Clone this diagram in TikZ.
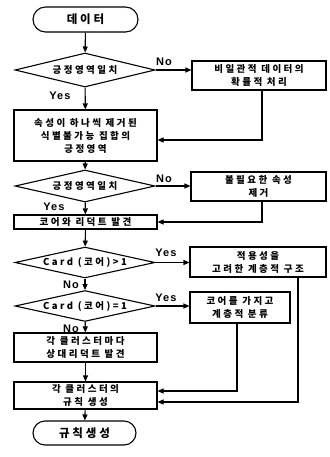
\documentclass[tikz,border=0pt]{standalone}
\usepackage{fontspec}
\usetikzlibrary{shapes.geometric,shapes.misc,arrows.meta}
\newfontfamily\kr[LetterSpace=26]{Noto Sans CJK KR}
\newfontfamily\krbig[LetterSpace=25]{Noto Sans CJK KR}
\newfontfamily\labfont[LetterSpace=10]{Liberation Sans}
\tikzset{
  box/.style={draw, line width=1.1pt, inner sep=0pt, align=center,
    font=\kr\bfseries\fontsize{9.5}{13}\selectfont},
  term/.style={draw, rounded rectangle, line width=1.1pt, inner sep=0pt,
    font=\krbig\bfseries\fontsize{11.5}{13}\selectfont},
  dia/.style={draw, diamond, aspect=4, line width=1.1pt, inner sep=0pt,
    font=\kr\bfseries\fontsize{9.5}{13}\selectfont},
  lab/.style={inner sep=0pt, font=\labfont\bfseries\fontsize{11}{12}\selectfont},
  arr/.style={line width=1.1pt, -{Triangle[length=6pt,width=5pt]}},
  ln/.style={line width=1.1pt}
}
\begin{document}
\begin{tikzpicture}[x=1pt,y=-1pt]
\useasboundingbox (0,0) rectangle (329,457);
% main column
\node[term, minimum width=105pt, minimum height=25pt] (start) at (85.5,19.5) {데이터};
\node[dia, minimum width=140pt, minimum height=34pt] (d1) at (85,70) {긍정영역일치};
\node[box, minimum width=134pt, minimum height=29pt] (b1) at (259,75.5) {비일관적 데이터의\\확률적 처리};
\node[box, minimum width=143pt, minimum height=51pt] (b2) at (85.5,135.5) {속성이 하나씩 제거된\\식별불가능 집합의\\긍정영역};
\node[dia, minimum width=140pt, minimum height=32pt] (d2) at (85,186) {긍정영역일치};
\node[box, minimum width=135pt, minimum height=29pt] (b4) at (258.5,186.5) {불필요한 속성\\제거};
\node[box, minimum width=143pt, minimum height=14pt] (b3) at (85.5,222) {코어와 리덕트 발견};
\node[dia, minimum width=140pt, minimum height=29pt] (d3) at (85,262.5) {Card (코어)>1};
\node[box, minimum width=136pt, minimum height=30pt] (b5) at (258,262) {적용성을\\고려한 계층적 구조};
\node[dia, minimum width=140pt, minimum height=28pt] (d4) at (85,306) {Card (코어)=1};
\node[box, minimum width=100pt, minimum height=31pt] (b6) at (240,307.5) {코어를 가지고\\계층적 분류};
\node[box, minimum width=143pt, minimum height=29pt] (b7) at (85.5,347.5) {각 클러스터마다\\상대리덕트 발견};
\node[box, minimum width=143pt, minimum height=27pt] (b8) at (85.5,395.5) {각 클러스터의\\규칙 생성};
\node[term, minimum width=103pt, minimum height=24pt] (end) at (84.5,433) {규칙생성};
% labels
\node[lab] (n1) at (164,62) {No};
\node[lab] (y1) at (60,96) {Yes};
\node[lab] (n2) at (164,179) {No};
\node[lab] (y2) at (54,207) {Yes};
\node[lab] (y3) at (166,253) {Yes};
\node[lab] (n3) at (71,285) {No};
\node[lab] (y4) at (166,298) {Yes};
\node[lab] (n4) at (71,329) {No};
% return corners
\coordinate (r1) at (262,140);
\coordinate (r2) at (262,222);
\coordinate (r3) at (237,391);
\coordinate (r4) at (298,402);
% connectors
\draw[arr] (start) -- (d1);
\draw[arr] (d1.east) -- (d1.east -| b1.west);
\draw[arr] (d1) -- (b2);
\draw[arr] (b1.south -| r1) -- (r1) -- (r1 -| b2.east);
\draw[arr] (b2) -- (d2);
\draw[arr] (d2.east) -- (d2.east -| b4.west);
\draw[arr] (d2) -- (b3);
\draw[arr] (b4.south -| r2) -- (r2) -- (r2 -| b3.east);
\draw[arr] (b3) -- (d3);
\draw[arr] (d3.east) -- (d3.east -| b5.west);
\draw[arr] (d3) -- (d4);
\draw[arr] (d4.east) -- (d4.east -| b6.west);
\draw[arr] (d4) -- (b7);
\draw[arr] (b7) -- (b8);
\draw[arr] (b6.south -| r3) -- (r3) -- (r3 -| b8.east);
\draw[arr] (b5.south -| r4) -- (r4) -- (r4 -| b8.east);
\draw[arr] (b8) -- (end);
\end{tikzpicture}
\end{document}
